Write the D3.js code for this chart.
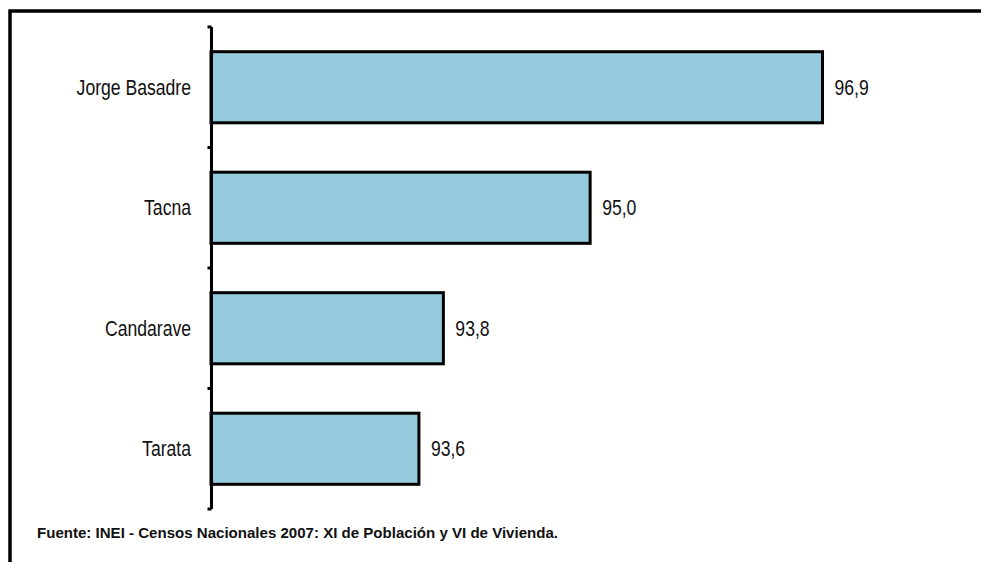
<!DOCTYPE html>
<html><head><meta charset="utf-8">
<script src="https://cdn.jsdelivr.net/npm/d3@7"></script>
<style>body{margin:0;background:#fff}svg{display:block}</style>
</head><body>
<svg id="c" width="981" height="562"></svg>
<script>
const categories = ["Jorge Basadre", "Tacna", "Candarave", "Tarata"];
const values = [96.9, 95.0, 93.8, 93.6];
const valueLabels = ["96,9", "95,0", "93,8", "93,6"];
const source = "Fuente: INEI - Censos Nacionales 2007: XI de Población y VI de Vivienda.";

const svg = d3.select("#c");
const font = "'Liberation Sans Narrow','Arial Narrow','Liberation Sans',Arial,sans-serif";
const sx = 0.8;

// frame
svg.append("path").attr("d", "M10,562V11H981").attr("fill","none").attr("stroke","#000").attr("stroke-width",3.5);

const x = d3.scaleLinear().domain([91.9, 100]).range([211, 211 + 8.1*122.3]);
const y = d3.scaleBand().domain(categories).range([27, 509]).paddingInner(0.41).paddingOuter(0.205);

svg.selectAll("rect.bar").data(categories).join("rect")
  .attr("x", x(91.9)).attr("y", d => y(d))
  .attr("width", (d,i) => x(values[i]) - x(91.9)).attr("height", y.bandwidth())
  .attr("fill", "#95ccdd").attr("stroke", "#000").attr("stroke-width", 3);

// axis
const yAxis = d3.axisLeft(y).tickSize(0).tickFormat("");
const ax = svg.append("g").attr("transform", "translate(211.5,0)").call(yAxis);
ax.select(".domain").attr("stroke-width", 3).attr("d", "M0,27V509");
const bounds = [27].concat(categories.map(c => y(c) + y.bandwidth() + y.step()*y.paddingInner()/2)).map((v,i,a)=> i===a.length-1 ? 509 : v);
ax.selectAll("line.tk").data(bounds).join("line").attr("class","tk")
  .attr("x1", -4).attr("x2", 0).attr("y1", d=>d).attr("y2", d=>d)
  .attr("stroke", "#000").attr("stroke-width", 3);

svg.selectAll("text.cat").data(categories).join("text")
  .attr("transform", d => `translate(191,${y(d) + y.bandwidth()/2}) scale(${sx},1)`).attr("dy","0.35em")
  .attr("text-anchor","end").attr("font-family", font).attr("font-size", 22).attr("fill","#111")
  .text(d => d);

svg.selectAll("text.val").data(categories).join("text")
  .attr("transform", (d,i) => `translate(${x(values[i]) + 12},${y(d) + y.bandwidth()/2}) scale(${sx},1)`).attr("dy","0.35em")
  .attr("font-family", font).attr("font-size", 22).attr("fill","#111")
  .text((d,i) => valueLabels[i]);

svg.append("text").attr("x", 37).attr("y", 538)
  .attr("font-family", font).attr("font-size", 15).attr("font-weight","bold").attr("fill","#111")
  .attr("textLength", 521).attr("lengthAdjust", "spacingAndGlyphs")
  .text(source);
</script>
</body></html>
